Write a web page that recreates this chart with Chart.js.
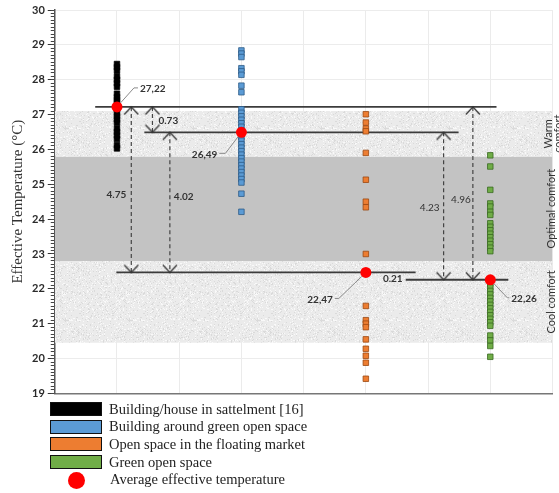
<!DOCTYPE html>
<html>
<head>
<meta charset="utf-8">
<script src="https://cdn.jsdelivr.net/npm/chart.js@4.4.1/dist/chart.umd.min.js"></script>
<style>
  body { margin: 0; background: #fff; }
  #wrap { position: relative; width: 559px; height: 493px; }
  #chart { position: absolute; left: 0; top: 0; }
  #legend { position: absolute; left: 50px; top: 400.5px; font-family: "Liberation Serif", serif; font-size: 14.5px; color: #222; }
  .row { height: 17.6px; display: flex; align-items: center; white-space: nowrap; }
  .box { width: 50px; height: 12px; border: 1.5px solid #111; margin-right: 7px; }
  .dot { width: 17px; height: 17px; border-radius: 50%; margin: 2px 25px 0 18px; }
</style>
</head>
<body>
<div id="wrap">
  <canvas id="chart" width="559" height="403"></canvas>
  <div id="legend"></div>
</div>
<script>
// series
const categories = ['Building/house in sattelment [16]', 'Building around green open space',
  'Open space in the floating market', 'Green open space'];
const categoryX = [1, 3, 5, 7];
const houseTemps = [28.45, 28.36, 28.27, 28.1, 28.0, 27.9, 27.8, 27.6, 27.5, 27.42, 27.34, 27.25,
  27.15, 27.05, 26.95, 26.86, 26.77, 26.6, 26.5, 26.4, 26.3, 26.12, 26.03];
const aroundGreenTemps = [28.84, 28.75, 28.65, 28.33, 28.24, 28.14, 27.83, 27.64, 27.15, 27.05,
  26.95, 26.85, 26.75, 26.65, 26.55, 26.45, 26.35, 26.25, 26.15, 26.05, 25.95, 25.85, 25.75,
  25.65, 25.55, 25.45, 25.35, 25.25, 25.15, 25.05, 24.73, 24.21];
const marketTemps = [27.01, 26.77, 26.6, 26.52, 25.9, 25.13, 24.5, 24.34, 23.0, 21.51, 21.1,
  21.0, 20.9, 20.55, 20.28, 20.08, 19.88, 19.42];
const greenTemps = [25.83, 25.51, 24.84, 24.45, 24.36, 24.21, 24.12, 23.88, 23.78, 23.68, 23.58,
  23.48, 23.38, 23.28, 23.18, 23.08, 22.14, 22.04, 21.94, 21.84, 21.74, 21.64, 21.54, 21.44,
  21.34, 21.24, 21.14, 21.04, 20.94, 20.66, 20.52, 20.36, 20.05];
const averageTemps = [27.22, 26.49, 22.47, 22.26];
const averageLabel = 'Average effective temperature';

// reference lines at the averages and the differences between them
const meanLineFrom = [0.65, 1.44, 0.99, 5.64];
const meanLineTo = [7.1, 6.49, 5.8, 7.29];
const arrowX = [1.23, 1.85, 1.57, 6.25, 6.72];
const arrowFrom = [0, 1, 0, 1, 0];
const arrowTo = [2, 2, 1, 3, 3];

// comfort zones
const bandNames = ['Warm comfort', 'Optimal comfort', 'Cool comfort'];
const bandLow = [25.8, 22.8, 20.45];
const bandHigh = [27.1, 25.8, 22.8];

const yMin = 19, yMax = 30;

const fillColors = ['#000000', '#5b9bd5', '#ed7d31', '#70ad47'];
const edgeColors = ['#000000', '#2c5b86', '#9a4812', '#3a6a22'];

// speckled texture for the light zones
function speckle() {
  const c = document.createElement('canvas');
  c.width = 64; c.height = 64;
  const g = c.getContext('2d');
  g.fillStyle = '#ebebeb';
  g.fillRect(0, 0, 64, 64);
  for (let yy = 0; yy < 64; yy++) {
    for (let xx = 0; xx < 64; xx++) {
      const h = ((xx * 374761393 + yy * 668265263) ^ (xx * yy * 2246822519)) >>> 0;
      const v = (h >>> 13) % 9;
      if (v === 0) { g.fillStyle = 'rgba(0,0,0,0.07)'; g.fillRect(xx, yy, 1, 1); }
      else if (v === 1) { g.fillStyle = 'rgba(255,255,255,0.7)'; g.fillRect(xx, yy, 1, 1); }
    }
  }
  return document.getElementById('chart').getContext('2d').createPattern(c, 'repeat');
}

function chevron(up) {
  const c = document.createElement('canvas');
  c.width = 16; c.height = 18;
  const g = c.getContext('2d');
  g.strokeStyle = '#333';
  g.lineWidth = 1.2;
  g.beginPath();
  if (up) { g.moveTo(1, 16.5); g.lineTo(8, 9); g.lineTo(15, 16.5); }
  else { g.moveTo(1, 1.5); g.lineTo(8, 9); g.lineTo(15, 1.5); }
  g.stroke();
  return c;
}

const lightFill = speckle();
const upHead = chevron(true);
const downHead = chevron(false);

const datasets = [];

bandNames.forEach((name, i) => {
  datasets.push({
    type: 'line',
    label: name,
    data: [{x: 0, y: bandHigh[i]}, {x: 8, y: bandHigh[i]}],
    borderWidth: 0,
    pointRadius: 0,
    fill: {value: bandLow[i]},
    backgroundColor: i === 1 ? '#c3c3c3' : lightFill,
    order: 20
  });
});

averageTemps.forEach((t, i) => {
  datasets.push({
    type: 'line',
    label: 'mean ' + i,
    data: [{x: meanLineFrom[i], y: t}, {x: meanLineTo[i], y: t}],
    borderColor: '#3c3c3c',
    borderWidth: 1.8,
    pointRadius: 0,
    fill: false,
    order: 6
  });
});

arrowX.forEach((ax, i) => {
  datasets.push({
    type: 'line',
    label: 'diff ' + i,
    data: [{x: ax, y: averageTemps[arrowFrom[i]]}, {x: ax, y: averageTemps[arrowTo[i]]}],
    borderColor: '#444',
    borderWidth: 1.2,
    borderDash: [4, 3],
    pointRadius: 3,
    pointStyle: (ctx) => ctx.dataIndex === 0 ? upHead : downHead,
    fill: false,
    order: 5
  });
});

[houseTemps, aroundGreenTemps, marketTemps, greenTemps].forEach((temps, i) => {
  datasets.push({
    type: 'scatter',
    label: categories[i],
    inLegend: true,
    data: temps.map(t => ({x: categoryX[i], y: t})),
    pointStyle: 'rect',
    pointRadius: 3.9,
    pointBackgroundColor: fillColors[i],
    pointBorderColor: edgeColors[i],
    pointBorderWidth: 0.8,
    backgroundColor: fillColors[i],
    borderColor: edgeColors[i],
    order: 3
  });
});

datasets.push({
  type: 'scatter',
  label: averageLabel,
  inLegend: true,
  data: averageTemps.map((t, i) => ({x: categoryX[i], y: t})),
  pointStyle: 'circle',
  pointRadius: 5.5,
  pointBackgroundColor: '#ff0000',
  pointBorderWidth: 0,
  backgroundColor: '#ff0000',
  borderColor: '#ff0000',
  order: 1
});

const avgLayout = [
  {ex: 17, ey: -19, tx: 21},
  {ex: -16, ey: 21, tx: -22},
  {ex: -27, ey: 26, tx: -31},
  {ex: 17, ey: 18, tx: 19}
];
const arrowLayout = [
  {dx: -5, dy: 5, align: 'right', bold: true},
  {dx: 4, dy: -6, align: 'left', bold: true},
  {dx: 6, dy: 1, align: 'left', bold: true},
  {dx: -4, dy: 2, align: 'right', bold: false},
  {dx: -2, dy: 6, align: 'right', bold: false}
];

const notesPlugin = {
  id: 'notes',
  afterDatasetsDraw(chart) {
    const {ctx, scales: {x, y}} = chart;
    ctx.save();
    ctx.textBaseline = 'middle';

    // average value labels with leader lines
    averageTemps.forEach((t, i) => {
      const px = x.getPixelForValue(categoryX[i]);
      const py = y.getPixelForValue(t);
      const L = avgLayout[i];
      const len = Math.hypot(L.ex, L.ey);
      ctx.strokeStyle = '#8a8a8a';
      ctx.lineWidth = 1;
      ctx.beginPath();
      ctx.moveTo(px + L.ex / len * 5.5, py + L.ey / len * 5.5);
      ctx.lineTo(px + L.ex, py + L.ey);
      ctx.lineTo(px + L.tx, py + L.ey);
      ctx.stroke();
      ctx.fillStyle = '#333';
      ctx.font = 'bold 10px Lato';
      ctx.textAlign = L.tx > 0 ? 'left' : 'right';
      ctx.fillText(t.toFixed(2).replace('.', ','), px + L.tx + (L.tx > 0 ? 2 : -2), py + L.ey + 1);
    });

    // difference labels
    arrowX.forEach((ax, i) => {
      const top = averageTemps[arrowFrom[i]], bottom = averageTemps[arrowTo[i]];
      const px = x.getPixelForValue(ax);
      const py = (y.getPixelForValue(top) + y.getPixelForValue(bottom)) / 2;
      const L = arrowLayout[i];
      ctx.fillStyle = '#333';
      ctx.font = (L.bold ? 'bold ' : '') + '10px Lato';
      ctx.textAlign = L.align;
      ctx.fillText((top - bottom).toFixed(2), px + L.dx, py + L.dy);
    });

    // gap between the two lowest averages
    ctx.font = 'bold 10px Lato';
    ctx.textAlign = 'right';
    ctx.fillText((averageTemps[2] - averageTemps[3]).toFixed(2),
      x.getPixelForValue(meanLineFrom[3]) - 3, y.getPixelForValue(averageTemps[3]) - 1);

    // zone names on the right edge
    ctx.font = '11px Lato';
    ctx.fillStyle = '#333';
    ctx.textAlign = 'center';
    bandNames.forEach((name, i) => {
      const yTop = y.getPixelForValue(bandHigh[i]);
      const yBot = y.getPixelForValue(bandLow[i]);
      const cy = (yTop + yBot) / 2;
      const lines = ctx.measureText(name).width > (yBot - yTop) - 4 ? name.split(' ') : [name];
      const cx = x.getPixelForValue(8) - (lines.length > 1 ? 4 : 1);
      ctx.save();
      ctx.translate(cx, cy);
      ctx.rotate(-Math.PI / 2);
      lines.forEach((s, k) => ctx.fillText(s, 0, k * 10));
      ctx.restore();
    });
    ctx.restore();
  }
};

const chart = new Chart(document.getElementById('chart'), {
  type: 'scatter',
  data: {datasets: datasets},
  options: {
    responsive: false,
    animation: false,
    events: [],
    layout: {padding: {left: 9, right: 6.5, top: 10, bottom: 0}},
    plugins: {legend: {display: false}, tooltip: {enabled: false}},
    scales: {
      x: {
        type: 'linear', min: 0, max: 8,
        ticks: {display: false, stepSize: 1},
        grid: {color: '#ebebeb', drawTicks: false},
        border: {color: '#777', width: 1.5}
      },
      y: {
        type: 'linear', position: 'left', weight: 1, min: yMin, max: yMax,
        ticks: {stepSize: 1, color: '#2a2a2a', padding: 3, font: {family: 'Lato', weight: 'bold', size: 11}},
        grid: {color: '#ececec', tickColor: '#333', tickLength: 7},
        border: {color: '#555', width: 1.5},
        title: {display: true, text: 'Effective Temperature (°C)', color: '#333',
          font: {family: 'Liberation Serif', size: 15}, padding: {top: 0, bottom: 2}}
      },
      yMinor: {
        type: 'linear', position: 'left', weight: 0, min: yMin, max: yMax,
        ticks: {display: false, stepSize: 0.1, autoSkip: false},
        grid: {drawOnChartArea: false, tickLength: 4, tickColor: '#444'},
        border: {display: false},
        afterFit(scale) { scale.width = 0; }
      }
    }
  },
  plugins: [notesPlugin]
});

// legend built from the chart's own series
const legend = document.getElementById('legend');
chart.data.datasets.filter(d => d.inLegend).forEach(d => {
  const row = document.createElement('div');
  row.className = 'row';
  const mark = document.createElement('span');
  mark.className = d.pointStyle === 'circle' ? 'dot' : 'box';
  mark.style.background = d.backgroundColor;
  row.appendChild(mark);
  const txt = document.createElement('span');
  txt.textContent = d.label;
  row.appendChild(txt);
  legend.appendChild(row);
});
</script>
</body>
</html>
